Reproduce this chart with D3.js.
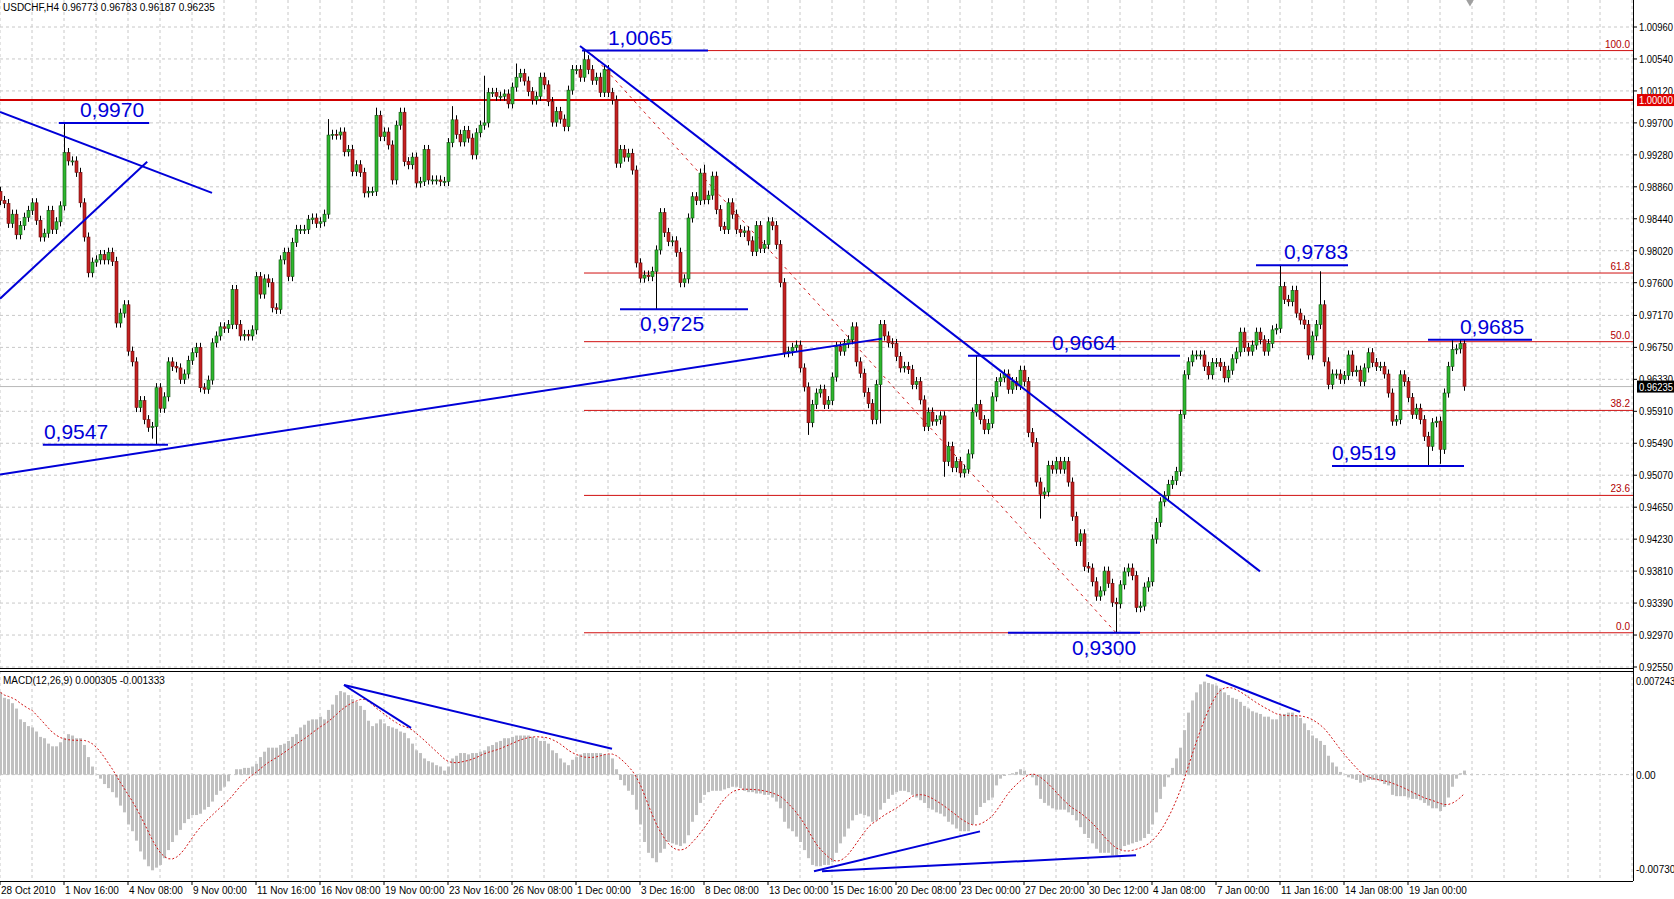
<!DOCTYPE html>
<html>
<head>
<meta charset="utf-8">
<script src="https://cdn.jsdelivr.net/npm/d3@7"></script>
<style>
  body { margin: 0; background: #fff; }
  text { font-family: "Liberation Sans", Arial, sans-serif; }
</style>
</head>
<body>
<div id="wrapper"></div>
<script>
// USDCHF H4 bars, 28 Oct 2010 .. 20 Jan 2011 (closes)
const firstOpen = 0.9880
const closes = [
  0.9868,0.9864,0.9838,0.9850,0.9823,0.9835,0.9846,0.9855,0.9865,0.9842,
  0.9820,0.9825,0.9855,0.9830,0.9840,0.9861,0.9931,0.9920,0.9920,0.9905,
  0.9865,0.9820,0.9773,0.9787,0.9790,0.9797,0.9790,0.9800,0.9788,0.9707,
  0.9720,0.9731,0.9670,0.9656,0.9596,0.9605,0.9580,0.9570,0.9571,0.9622,
  0.9595,0.9610,0.9656,0.9650,0.9648,0.9633,0.9640,0.9658,0.9668,0.9675,
  0.9622,0.9620,0.9632,0.9681,0.9690,0.9702,0.9700,0.9705,0.9751,0.9705,
  0.9690,0.9692,0.9690,0.9698,0.9768,0.9745,0.9765,0.9760,0.9727,0.9725,
  0.9790,0.9800,0.9768,0.9813,0.9830,0.9830,0.9830,0.9843,0.9845,0.9838,
  0.9840,0.9850,0.9954,0.9955,0.9954,0.9958,0.9932,0.9935,0.9906,0.9915,
  0.9905,0.9878,0.9880,0.9880,0.9980,0.9952,0.9958,0.9941,0.9895,0.9967,
  0.9984,0.9919,0.9915,0.9925,0.9891,0.9893,0.9935,0.9895,0.9895,0.9895,
  0.9893,0.9893,0.9944,0.9974,0.9955,0.9945,0.9960,0.9950,0.9928,0.9957,
  0.9967,0.9970,1.0010,1.0010,1.0005,1.0005,1.0008,0.9995,1.0017,1.0030,
  1.0035,1.0025,1.0011,1.0000,1.0005,1.0030,1.0020,0.9998,0.9971,0.9985,
  0.9975,0.9965,1.0013,1.0040,1.0040,1.0030,1.0053,1.0040,1.0026,1.0030,
  1.0010,1.0040,1.0010,1.0000,0.9917,0.9935,0.9925,0.9930,0.9908,0.9786,
  0.9766,0.9770,0.9768,0.9775,0.9803,0.9852,0.9826,0.9814,0.9815,0.9800,
  0.9760,0.9765,0.9845,0.9873,0.9868,0.9904,0.9869,0.9875,0.9900,0.9856,
  0.9834,0.9830,0.9865,0.9850,0.9830,0.9826,0.9828,0.9815,0.9801,0.9835,
  0.9805,0.9810,0.9840,0.9835,0.9810,0.9760,0.9668,0.9670,0.9675,0.9678,
  0.9648,0.9623,0.9576,0.9600,0.9615,0.9620,0.9600,0.9605,0.9636,0.9676,
  0.9670,0.9680,0.9685,0.9702,0.9656,0.9641,0.9616,0.9601,0.9580,0.9626,
  0.9705,0.9690,0.9681,0.9680,0.9663,0.9648,0.9650,0.9646,0.9626,0.9630,
  0.9606,0.9571,0.9590,0.9578,0.9580,0.9585,0.9525,0.9545,0.9517,0.9525,
  0.9510,0.9515,0.9535,0.9590,0.9600,0.9580,0.9567,0.9575,0.9610,0.9630,
  0.9635,0.9640,0.9620,0.9630,0.9625,0.9645,0.9630,0.9563,0.9550,0.9498,
  0.9482,0.9485,0.9520,0.9515,0.9525,0.9515,0.9525,0.9498,0.9453,0.9420,
  0.9430,0.9387,0.9385,0.9367,0.9348,0.9355,0.9381,0.9365,0.9340,0.9338,
  0.9363,0.9380,0.9385,0.9375,0.9333,0.9335,0.9360,0.9367,0.9423,0.9445,
  0.9472,0.9480,0.9495,0.9500,0.9512,0.9587,0.9639,0.9656,0.9665,0.9665,
  0.9665,0.9650,0.9639,0.9655,0.9655,0.9650,0.9635,0.9645,0.9660,0.9669,
  0.9695,0.9675,0.9670,0.9678,0.9695,0.9685,0.9670,0.9680,0.9698,0.9700,
  0.9755,0.9738,0.9735,0.9750,0.9720,0.9711,0.9705,0.9665,0.9690,0.9705,
  0.9731,0.9656,0.9626,0.9640,0.9640,0.9633,0.9638,0.9665,0.9643,0.9645,
  0.9630,0.9648,0.9668,0.9655,0.9650,0.9650,0.9640,0.9615,0.9578,0.9580,
  0.9639,0.9630,0.9609,0.9587,0.9595,0.9580,0.9558,0.9545,0.9576,0.9578,
  0.9541,0.9615,0.9650,0.9672,0.9673,0.9680,0.9624
]
// usual wick size and the wicks that stand out
const typicalWick = 0.0006
const highOverrides = {16: 0.9970, 82: 0.9975, 94: 0.9990, 113: 0.9992, 121: 1.0032, 129: 1.0048, 146: 1.0065, 176: 0.9915, 244: 0.9664, 320: 0.9783, 330: 0.9775, 363: 0.9685, 365: 0.9685}
const lowOverrides = {39: 0.9547, 38: 0.9555, 164: 0.9725, 202: 0.9560, 220: 0.9575, 236: 0.9505, 260: 0.9450, 279: 0.9300, 357: 0.9519, 360: 0.9522}

// MACD main line, units of 1e-4
const macdHist = [
  61,57,56,53,49,41,39,36,35,32, 28,27,23,21,21,24,27,30,29,27,
  27,22,13,6,0,-3,-7,-10,-13,-17, -23,-28,-37,-42,-49,-57,-63,-68,-71,-69,
  -67,-62,-56,-50,-45,-41,-36,-33,-30,-30, -29,-26,-24,-20,-15,-12,-9,-5,0,4,
  4,5,5,6,8,13,17,20,20,20, 22,23,25,28,30,35,37,40,41,41,
  43,41,48,52,59,62,61,59,56,54, 51,48,40,36,38,41,38,36,35,34,
  32,31,27,23,18,16,12,10,9,7, 6,3,6,12,14,16,16,15,16,16,
  17,18,21,22,24,25,27,27,28,29, 29,29,29,28,27,25,25,23,18,16,
  12,9,7,11,13,15,16,16,16,16, 16,15,15,12,4,-4,-8,-12,-15,-26,
  -37,-50,-58,-62,-65,-58,-55,-50,-51,-52, -53,-51,-45,-35,-30,-21,-15,-13,-12,-12,
  -12,-11,-10,-9,-9,-10,-12,-13,-13,-14, -14,-15,-15,-17,-20,-25,-35,-40,-42,-46,
  -50,-56,-62,-67,-68,-68,-67,-67,-65,-58, -51,-46,-40,-34,-30,-29,-30,-31,-35,-34,
  -26,-21,-18,-15,-13,-12,-12,-13,-15,-17, -19,-21,-25,-26,-28,-29,-31,-35,-37,-40,
  -42,-42,-42,-37,-30,-24,-21,-19,-17,-8, -3,-1,0,1,2,4,3,0,-2,-8,
  -18,-21,-23,-25,-26,-26,-26,-28,-30,-34, -39,-44,-47,-51,-55,-58,-58,-58,-60,-60,
  -56,-53,-52,-51,-50,-49,-47,-44,-37,-28, -18,-9,-2,5,12,20,33,46,55,61,
  67,69,68,67,66,64,61,59,57,56, 54,51,49,47,46,45,43,43,41,41,
  44,45,46,46,44,42,38,33,29,27, 25,22,14,9,6,2,0,-2,-3,-4,
  -6,-5,-4,-4,-4,-5,-7,-8,-15,-16, -16,-16,-17,-18,-18,-19,-21,-23,-25,-25,
  -27,-24,-17,-9,-3,1,3
]
const signalPeriod = 9

const dateLabels = ["28 Oct 2010","1 Nov 16:00","4 Nov 08:00","9 Nov 00:00","11 Nov 16:00","16 Nov 08:00",
  "19 Nov 00:00","23 Nov 16:00","26 Nov 08:00","1 Dec 00:00","3 Dec 16:00","8 Dec 08:00","13 Dec 00:00",
  "15 Dec 16:00","20 Dec 08:00","23 Dec 00:00","27 Dec 20:00","30 Dec 12:00","4 Jan 08:00","7 Jan 00:00",
  "11 Jan 16:00","14 Jan 08:00","19 Jan 00:00"]
const barsPerLabel = 16
const priceTicks = [0.92550,0.92970,0.93390,0.93810,0.94230,0.94650,0.95070,0.95490,0.95910,0.96330,
  0.96750,0.97170,0.97600,0.98020,0.98440,0.98860,0.99280,0.99700,1.00120,1.00540,1.00960]

// trend lines drawn on the chart: [bar, price, bar, price]
const trendLines = [
  [0, 0.99844, 53, 0.98781],
  [0, 0.97390, 36.8, 0.99188],
  [0, 0.95080, 220.5, 0.96865],
  [145, 1.00711, 315, 0.93807]
]
const fibTrend = [148, 1.0060, 279, 0.9300]
// swing levels: [bar from, bar to, price, label, label bar, above?]
const levels = [
  [14.7, 37.3, 0.9970, "0,9970", 28, true],
  [10.7, 42, 0.9547, "0,9547", 19, true],
  [145.5, 177, 1.0065, "1,0065", 160, true],
  [155, 187, 0.9725, "0,9725", 168, false],
  [242, 295, 0.9664, "0,9664", 271, true],
  [252, 285, 0.9300, "0,9300", 276, false],
  [314, 337, 0.9783, "0,9783", 329, true],
  [357, 383, 0.9685, "0,9685", 373, true],
  [333, 366, 0.9519, "0,9519", 341, true]
]
const fibStart = 146
const fibLevels = [["100.0", 1.0065], ["61.8", 0.97727], ["50.0", 0.96825], ["38.2", 0.95922], ["23.6", 0.94805], ["0.0", 0.9300]]
const parity = 1.0000
const bid = 0.96235
// MACD trend lines: [bar, value(1e-4), bar, value]
const macdLines = [
  [86, 66.5, 102.75, 34.7],
  [86, 66.5, 153, 19.2],
  [203.5, -71.7, 245, -42.1],
  [205.5, -71.7, 284, -59.9],
  [301.5, 73.9, 325, 46.6]
]

const W = 1674, H = 899
const plotRight = 1633
const main = {top: 0, bottom: 668}
const sub = {top: 671, bottom: 881}

const svg = d3.select("#wrapper").append("svg").attr("width", W).attr("height", H)
svg.append("rect").attr("width", W).attr("height", H).attr("fill", "#fff")

const x = d3.scaleLinear().domain([0, plotRight / 4]).range([0, plotRight])
const y = d3.scaleLinear().domain([0.9255, 1.0096]).range([667, 27])
const ym = d3.scaleLinear().domain([-73, 72.43]).range([873, 677])

const blue = "#0000d8"

// grid
const grid = svg.append("g").attr("stroke", "#c8c8c8").attr("stroke-dasharray", "3,3")
d3.range(0, plotRight / 4, 8).forEach(i => {
  grid.append("line").attr("x1", x(i)).attr("x2", x(i)).attr("y1", main.top).attr("y2", main.bottom)
  grid.append("line").attr("x1", x(i)).attr("x2", x(i)).attr("y1", sub.top).attr("y2", sub.bottom)
})
priceTicks.forEach(p => grid.append("line").attr("x1", 0).attr("x2", plotRight).attr("y1", y(p)).attr("y2", y(p)))
grid.append("line").attr("x1", 0).attr("x2", plotRight).attr("y1", ym(0)).attr("y2", ym(0))

// bid line
svg.append("line").attr("x1", 0).attr("x2", plotRight).attr("y1", y(bid)).attr("y2", y(bid)).attr("stroke", "#b8b8b8")

// fibo levels
const fib = svg.append("g")
fibLevels.forEach(([lab, p]) => {
  fib.append("line").attr("x1", x(fibStart)).attr("x2", plotRight).attr("y1", y(p)).attr("y2", y(p))
    .attr("stroke", "#d01010").attr("stroke-width", 1)
  fib.append("text").attr("x", plotRight - 3).attr("y", y(p) - 3).attr("text-anchor", "end")
    .attr("font-size", 10).attr("fill", "#b00000").text(lab)
})
svg.append("line").attr("x1", x(fibTrend[0])).attr("y1", y(fibTrend[1])).attr("x2", x(fibTrend[2])).attr("y2", y(fibTrend[3]))
  .attr("stroke", "#d02020").attr("stroke-dasharray", "3,4")

// parity line
svg.append("line").attr("x1", 0).attr("x2", plotRight).attr("y1", y(parity)).attr("y2", y(parity))
  .attr("stroke", "#d00000").attr("stroke-width", 2)

// candles
const bars = closes.map((c, i) => {
  const o = i === 0 ? firstOpen : closes[i - 1]
  const h = highOverrides[i] !== undefined ? highOverrides[i] : Math.max(o, c) + typicalWick
  const l = lowOverrides[i] !== undefined ? lowOverrides[i] : Math.min(o, c) - typicalWick
  return {i, o, c, h, l}
})
const candles = svg.append("g").selectAll("g").data(bars).enter().append("g")
candles.append("line")
  .attr("x1", d => x(d.i) + 0.5).attr("x2", d => x(d.i) + 0.5)
  .attr("y1", d => y(d.h)).attr("y2", d => y(d.l)).attr("stroke", "#000")
candles.append("rect")
  .attr("x", d => x(d.i) - 1)
  .attr("y", d => y(Math.max(d.o, d.c)))
  .attr("width", 3)
  .attr("height", d => Math.max(1, y(Math.min(d.o, d.c)) - y(Math.max(d.o, d.c))))
  .attr("fill", d => d.c >= d.o ? "#2eb82e" : "#c42020")
  .attr("stroke", d => d.c >= d.o ? "#145214" : "#6a0c0c").attr("stroke-width", 0.6)

// trend lines and swing levels
const draw = svg.append("g").attr("stroke", blue).attr("stroke-width", 2)
trendLines.forEach(([a, p, b, q]) => draw.append("line").attr("x1", x(a)).attr("y1", y(p)).attr("x2", x(b)).attr("y2", y(q)))
levels.forEach(([a, b, p, lab, li, above]) => {
  draw.append("line").attr("x1", x(a)).attr("x2", x(b)).attr("y1", y(p)).attr("y2", y(p))
  svg.append("text").attr("x", x(li)).attr("y", y(p) + (above ? -6 : 22))
    .attr("text-anchor", "middle").attr("font-size", 21).attr("fill", blue).text(lab)
})

// MACD
svg.append("g").selectAll("rect").data(macdHist).enter().append("rect")
  .attr("x", (d, i) => x(i) - 1).attr("width", 3)
  .attr("y", d => Math.min(ym(d), ym(0)))
  .attr("height", d => Math.abs(ym(d) - ym(0)))
  .attr("fill", "#c0c0c0")
const signal = macdHist.map((d, i) => d3.mean(macdHist.slice(Math.max(0, i - signalPeriod + 1), i + 1)))
svg.append("path").datum(signal)
  .attr("d", d3.line().x((d, i) => x(i) + 0.5).y(d => ym(d)))
  .attr("fill", "none").attr("stroke", "#d01010").attr("stroke-dasharray", "2,2")
const mdraw = svg.append("g").attr("stroke", blue).attr("stroke-width", 2)
macdLines.forEach(([a, p, b, q]) => mdraw.append("line").attr("x1", x(a)).attr("y1", ym(p)).attr("x2", x(b)).attr("y2", ym(q)))

// frames
const frame = svg.append("g").attr("stroke", "#000")
frame.append("line").attr("x1", plotRight + 0.5).attr("x2", plotRight + 0.5).attr("y1", 0).attr("y2", sub.bottom)
frame.append("line").attr("x1", 0).attr("x2", plotRight).attr("y1", main.bottom + 0.5).attr("y2", main.bottom + 0.5)
frame.append("line").attr("x1", 0).attr("x2", plotRight).attr("y1", sub.top + 0.5).attr("y2", sub.top + 0.5)
frame.append("line").attr("x1", 0).attr("x2", plotRight).attr("y1", sub.bottom + 0.5).attr("y2", sub.bottom + 0.5)

// price axis
const pa = svg.append("g")
const labelW = 34
priceTicks.forEach(p => {
  pa.append("line").attr("x1", plotRight).attr("x2", plotRight + 4).attr("y1", y(p)).attr("y2", y(p)).attr("stroke", "#000")
  pa.append("text").attr("x", plotRight + 6).attr("y", y(p) + 4).attr("font-size", 10)
    .attr("textLength", labelW).attr("lengthAdjust", "spacingAndGlyphs").text(p.toFixed(5))
})
pa.append("rect").attr("x", plotRight + 4).attr("y", y(parity) - 6).attr("width", 37).attr("height", 12).attr("fill", "#e00000")
pa.append("text").attr("x", plotRight + 6).attr("y", y(parity) + 4).attr("font-size", 10).attr("fill", "#fff")
  .attr("textLength", labelW).attr("lengthAdjust", "spacingAndGlyphs").text(parity.toFixed(5))
pa.append("rect").attr("x", plotRight + 4).attr("y", y(bid) - 6).attr("width", 37).attr("height", 12).attr("fill", "#000")
pa.append("text").attr("x", plotRight + 6).attr("y", y(bid) + 4).attr("font-size", 10).attr("fill", "#fff")
  .attr("textLength", labelW).attr("lengthAdjust", "spacingAndGlyphs").text(bid.toFixed(5))

// macd axis
const macdTicks = [[72.43, "0.007243", 8], [0, "0.00", 4], [-73, "-0.00730", 0]]
macdTicks.forEach(([v, t, dy]) => svg.append("text").attr("x", plotRight + 3).attr("y", ym(v) + dy)
  .attr("font-size", 10).attr("textLength", t.length * 4.9).attr("lengthAdjust", "spacingAndGlyphs").text(t))

// time axis
dateLabels.forEach((t, k) => {
  const i = k * barsPerLabel
  svg.append("line").attr("x1", x(i)).attr("x2", x(i)).attr("y1", sub.bottom).attr("y2", sub.bottom + 4).attr("stroke", "#000")
  svg.append("text").attr("x", x(i) + 1).attr("y", 894).attr("font-size", 10).text(t)
})

// titles
svg.append("text").attr("x", 3).attr("y", 11).attr("font-size", 10).text("USDCHF,H4  0.96773 0.96783 0.96187 0.96235")
svg.append("text").attr("x", 3).attr("y", 684).attr("font-size", 10).text("MACD(12,26,9) 0.000305 -0.001333")
svg.append("path").attr("d", d3.symbol(d3.symbolTriangle, 40)()).attr("transform", `translate(${x(367.5)},1) rotate(180)`).attr("fill", "#a0a0a0")
</script>
</body>
</html>
